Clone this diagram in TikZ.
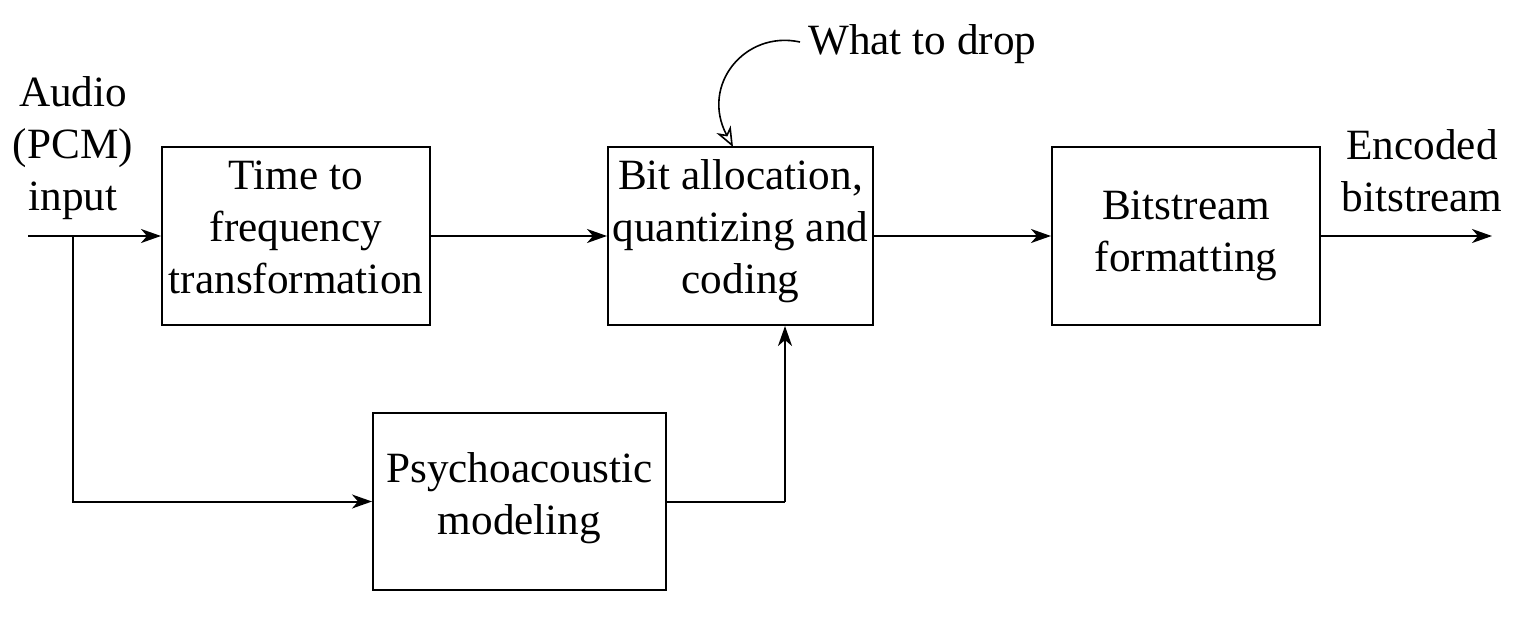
\documentclass[tikz,border=0pt]{standalone}
\usepackage{fontspec}
\setmainfont{Liberation Serif}
\usetikzlibrary{arrows.meta}
\begin{document}
\begin{tikzpicture}[x=0.5pt,y=-0.5pt,
  every node/.style={font=\fontsize{21.6}{26}\selectfont},
  blockbox/.style={draw,line width=1pt,minimum width=134pt,minimum height=89pt,inner sep=0pt,align=center},
  lbl/.style={align=center,inner sep=0pt},
  conn/.style={line width=1pt,-{Stealth[length=10pt,width=7pt,inset=3pt]}},
  wire/.style={line width=1pt}]
\useasboundingbox (0,0) rectangle (1526,632);
\node[blockbox,text depth=9pt] (tf) at (296,236) {Time to\\frequency\\transformation};
\node[blockbox,minimum width=132.5pt,text depth=9pt] (ba) at (740.5,236) {Bit allocation,\\quantizing and\\coding};
\node[blockbox] (bf) at (1186,236) {Bitstream\\formatting};
\node[blockbox,minimum width=146.5pt,minimum height=88.5pt,text depth=8pt] (pm) at (519.5,501.5) {Psychoacoustic\\modeling};
\node[lbl] (audio) at (73,148) {Audio\\(PCM)\\input};
\node[lbl] (enc) at (1422,171) {Encoded\\bitstream};
\node[lbl,anchor=west] (drop) at (808,44) {What to drop};
\coordinate (in) at (28,236);
\coordinate (br) at (73,236);
\coordinate (out) at (1492,236);
\coordinate (up) at (785,502);
\draw[conn] (in) -- (tf.west);
\draw[conn] (br) |- (pm.west);
\draw[conn] (tf.east) -- (ba.west);
\draw[conn] (ba.east) -- (bf.west);
\draw[conn] (bf.east) -- (out);
\draw[wire] (pm.east |- up) -- (up);
\draw[conn] (up) -- (up |- ba.south);
\draw[line width=0.8pt,-{Stealth[open,length=10pt,width=8pt,inset=3pt]}] (800,42) .. controls (745,30) and (700,85) .. (733,147);
\end{tikzpicture}
\end{document}
